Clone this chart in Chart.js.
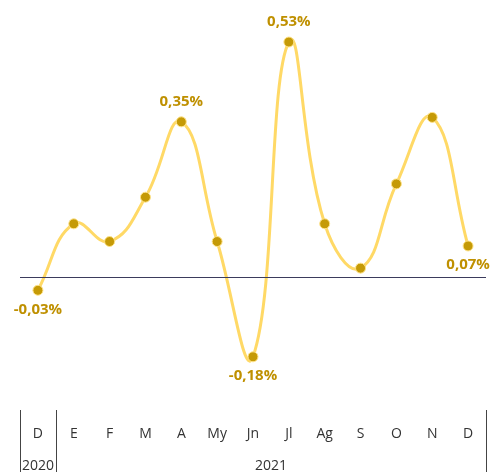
<!DOCTYPE html>
<html>
<head>
<meta charset="utf-8">
<script src="https://cdn.jsdelivr.net/npm/chart.js@4"></script>
<style>
  html, body { margin: 0; padding: 0; background: #fff; }
  #wrap { width: 494px; height: 472px; }
</style>
</head>
<body>
<div id="wrap"><canvas id="chart"></canvas></div>
<script>
// Meses y valores (variación mensual, %)
const months = ['D', 'E', 'F', 'M', 'A', 'My', 'Jn', 'Jl', 'Ag', 'S', 'O', 'N', 'D'];
const values = [-0.03, 0.12, 0.08, 0.18, 0.35, 0.08, -0.18, 0.53, 0.12, 0.02, 0.21, 0.36, 0.07];
// etiquetas visibles: índice -> posición
const labelled = { 0: 'below', 4: 'above', 6: 'below', 7: 'above', 12: 'below' };
const years = [{ text: '2020', from: 0, to: 0 }, { text: '2021', from: 1, to: 12 }];

const fmt = v => v.toFixed(2).replace('.', ',') + '%';

const extras = {
  id: 'extras',
  afterDraw(chart) {
    const { ctx, chartArea, scales } = chart;
    const x = scales.x, y = scales.y;
    const half = (x.getPixelForValue(1) - x.getPixelForValue(0)) / 2;
    ctx.save();
    // zero line
    const y0 = y.getPixelForValue(0);
    ctx.strokeStyle = '#3b3b5c';
    ctx.lineWidth = 1;
    ctx.beginPath();
    ctx.moveTo(chartArea.left, y0 + 0.5);
    ctx.lineTo(chartArea.right, y0 + 0.5);
    ctx.stroke();
    // year separators + year labels
    ctx.strokeStyle = '#444';
    ctx.font = '14px "Open Sans", sans-serif';
    ctx.fillStyle = '#333';
    ctx.textAlign = 'center';
    ctx.textBaseline = 'middle';
    years.forEach(g => {
      const l = x.getPixelForValue(g.from) - half;
      const r = x.getPixelForValue(g.to) + half;
      [l, r].forEach(px => {
        ctx.beginPath();
        ctx.moveTo(Math.round(px) + 0.5, chartArea.bottom);
        ctx.lineTo(Math.round(px) + 0.5, chart.height);
        ctx.stroke();
      });
      ctx.fillText(g.text, (l + r) / 2, chart.height - 6);
    });
    // data labels
    ctx.font = 'bold 15px "Open Sans", sans-serif';
    ctx.fillStyle = '#bf9000';
    const meta = chart.getDatasetMeta(0);
    Object.keys(labelled).forEach(k => {
      const i = +k;
      const pt = meta.data[i];
      const dy = labelled[k] === 'above' ? -20 : 19;
      let px = pt.x;
      if (i === values.length - 1) px = Math.min(px, chart.width - ctx.measureText(fmt(values[i])).width / 2 - 1);
      ctx.fillText(fmt(values[i]), px, pt.y + dy);
    });
    ctx.restore();
  }
};

new Chart(document.getElementById('chart'), {
  type: 'line',
  data: {
    labels: months,
    datasets: [{
      data: values,
      borderColor: '#ffd966',
      borderWidth: 3,
      tension: 0.45,
      pointRadius: 5,
      pointBackgroundColor: '#c59a06',
      pointBorderColor: '#ffe38a',
      pointBorderWidth: 1
    }]
  },
  options: {
    responsive: true,
    maintainAspectRatio: false,
    animation: false,
    layout: { padding: { left: 20, right: 8, top: 11, bottom: 0 } },
    plugins: { legend: { display: false }, tooltip: { enabled: false } },
    scales: {
      x: {
        offset: true,
        grid: { display: false },
        border: { display: false },
        ticks: {
          color: '#333',
          font: { family: '"Open Sans", sans-serif', size: 14 },
          padding: 8,
          autoSkip: false,
          maxRotation: 0
        },
        afterFit(scale) { scale.height = 62; }
      },
      y: {
        display: false,
        min: -0.3,
        max: 0.6
      }
    }
  },
  plugins: [extras]
});
</script>
</body>
</html>
